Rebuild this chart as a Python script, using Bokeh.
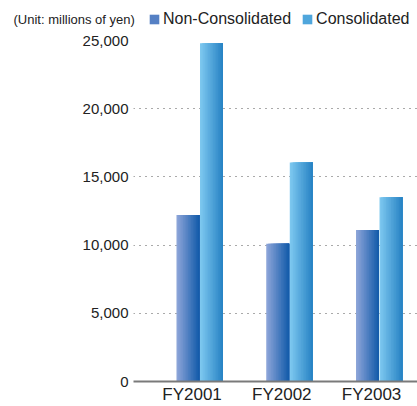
from bokeh.plotting import figure
from bokeh.layouts import column
from bokeh.models import (ColumnDataSource, Range1d, FixedTicker, NumeralTickFormatter,
                          Legend, LegendItem, Label)
from bokeh.embed import file_html
from bokeh.resources import INLINE

# ---- data ----
categories = ["FY2001", "FY2002", "FY2003"]
series_names = ["Non-Consolidated", "Consolidated"]
non_consolidated = [12200, 10100, 11100]
consolidated = [24800, 16050, 13500]
y_ticks = [0, 5000, 10000, 15000, 20000, 25000]
unit_text = "(Unit: millions of yen)"

# ---- style ----
FONT = "Liberation Sans"
TEXT = "#222222"
N_STRIPS = 14
BAR_W = 0.256
OFFSETS = [-0.045, 0.217]
GRADIENTS = [("#8ba4d8", "#155cab"), ("#7cc7ef", "#2984c5")]
SWATCH = ["#5580c4", "#4fa6dc"]


def hex2rgb(h):
    h = h.lstrip("#")
    return tuple(int(h[i:i + 2], 16) for i in (0, 2, 4))


def lerp_color(c0, c1, t):
    a, b = hex2rgb(c0), hex2rgb(c1)
    return "#%02x%02x%02x" % tuple(round(a[i] + (b[i] - a[i]) * t) for i in range(3))


# ---------- header (unit note + legend) ----------
head = figure(width=417, height=30, output_backend="svg", toolbar_location=None,
              x_axis_type=None, y_axis_type=None, x_range=Range1d(0, 1),
              y_range=Range1d(0, 1), min_border=0, background_fill_color="white",
              border_fill_color="white")
head.frame_align = False
head.outline_line_color = None
head.title = None
# zero-size proxy glyphs: only their legend swatches are seen
proxies = [head.vbar(x=[0.5], top=[0], bottom=[0], width=0, fill_color=c, line_color=None)
           for c in SWATCH]
items = [LegendItem(label=n, renderers=[r]) for n, r in zip(series_names, proxies)]
legend = Legend(items=items, orientation="horizontal", location=(148, 2),
                label_text_font=FONT, label_text_font_size="16px",
                label_text_color=TEXT, glyph_width=12, glyph_height=12,
                label_standoff=3, spacing=10, padding=0, margin=0,
                border_line_color=None, background_fill_alpha=0)
head.add_layout(legend, "center")
head.add_layout(Label(x=13, y=11, x_units="screen", y_units="screen", text=unit_text,
                      text_font=FONT, text_font_size="13px", text_color=TEXT,
                      text_baseline="middle"))

# ---------- main chart ----------
p = figure(width=417, height=376, output_backend="svg", toolbar_location=None,
           x_range=Range1d(-0.652, 2.512), y_range=Range1d(0, 25000),
           min_border_left=133, min_border_right=0, min_border_top=10,
           min_border_bottom=23, background_fill_color="white",
           border_fill_color="white")
p.frame_align = False
p.title = None
p.outline_line_color = None
p.xgrid.grid_line_color = None
p.ygrid.grid_line_color = "#555555"
p.ygrid.grid_line_dash = "1 5"
p.ygrid.grid_line_width = 1.2

for vals, off, (c0, c1) in zip([non_consolidated, consolidated], OFFSETS, GRADIENTS):
    xs, ws, tops, cols = [], [], [], []
    sw = BAR_W / N_STRIPS
    for k in range(N_STRIPS):
        t = k / (N_STRIPS - 1)
        for i, v in enumerate(vals):
            left = i + off - BAR_W / 2 + sw * k
            right = i + off + BAR_W / 2
            xs.append((left + right) / 2)
            ws.append(right - left)
            tops.append(v)
            cols.append(lerp_color(c0, c1, t))
    src = ColumnDataSource(dict(x=xs, w=ws, top=tops, color=cols))
    p.vbar(x="x", top="top", bottom=0, width="w", source=src,
           fill_color="color", line_color=None)

p.yaxis.ticker = FixedTicker(ticks=y_ticks)
p.yaxis.formatter = NumeralTickFormatter(format="0,0")
p.yaxis.axis_line_color = None
p.yaxis.major_tick_line_color = None
p.yaxis.minor_tick_line_color = None
p.yaxis.major_tick_out = 0
p.yaxis.major_tick_in = 0
p.yaxis.major_label_text_font = FONT
p.yaxis.major_label_text_font_size = "15px"
p.yaxis.major_label_text_color = TEXT
p.yaxis.major_label_standoff = 5

p.xaxis.ticker = FixedTicker(ticks=list(range(len(categories))))
p.xaxis.major_label_overrides = {i: c for i, c in enumerate(categories)}
p.xaxis.axis_line_color = "#7a7a7a"
p.xaxis.axis_line_width = 2
p.xaxis.major_tick_line_color = None
p.xaxis.minor_tick_line_color = None
p.xaxis.major_tick_out = 0
p.xaxis.major_tick_in = 0
p.xaxis.major_label_text_font = FONT
p.xaxis.major_label_text_font_size = "17px"
p.xaxis.major_label_text_color = TEXT
p.xaxis.major_label_standoff = 3

layout = column(head, p, spacing=0)
open("out.html", "w").write(file_html(layout, INLINE))
